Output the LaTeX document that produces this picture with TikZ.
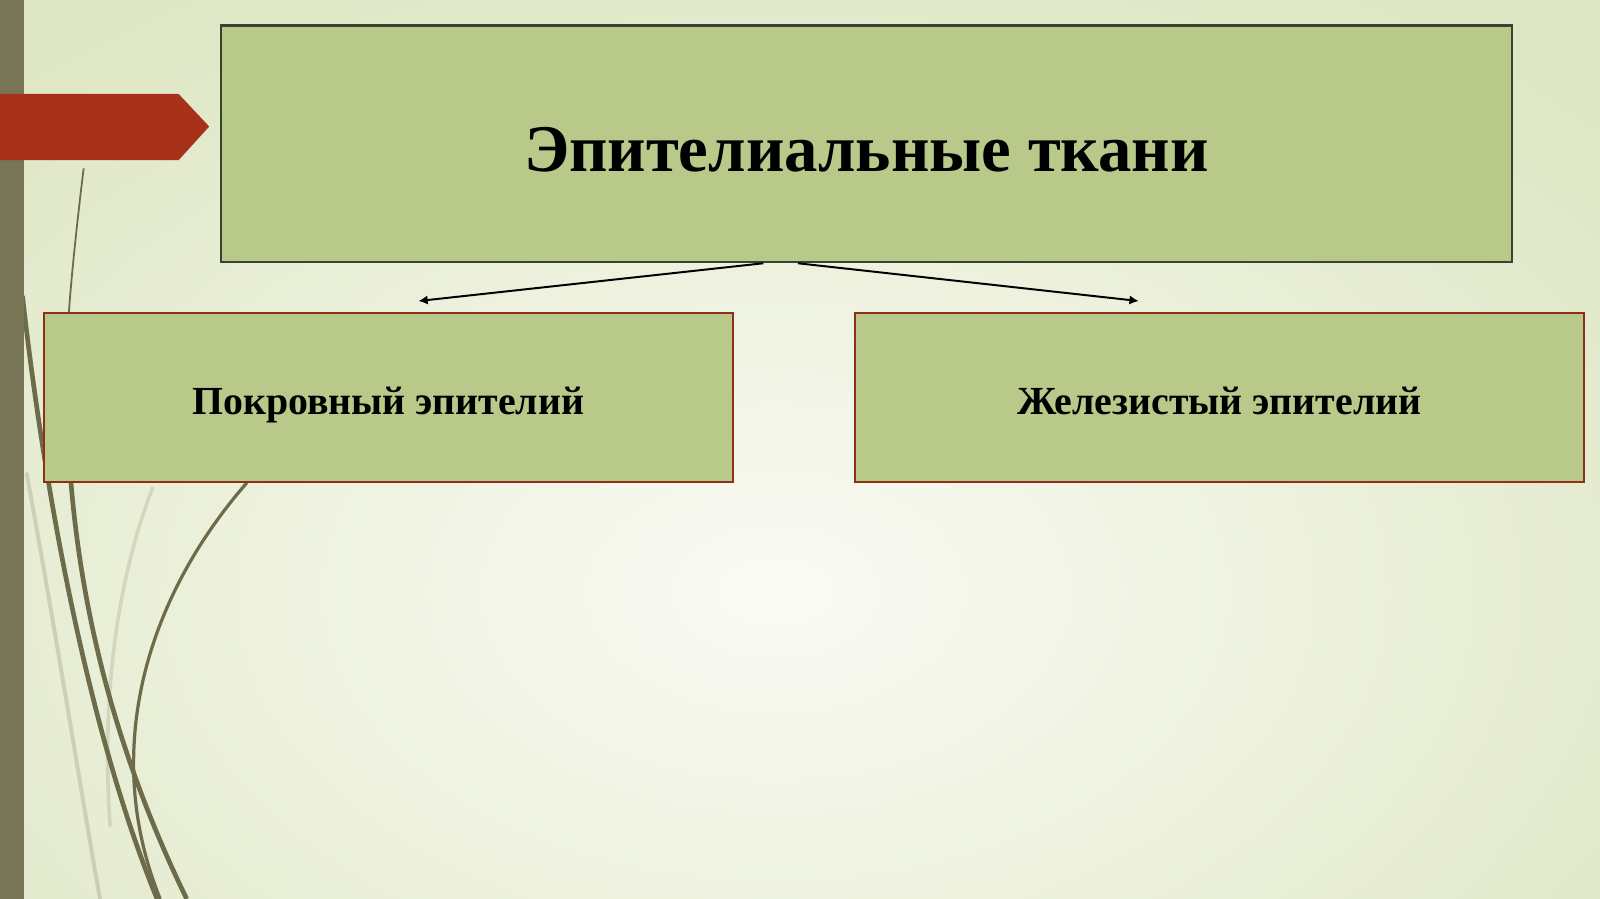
\documentclass[tikz,border=0pt]{standalone}
\usepackage{fontspec}
\setmainfont{Liberation Serif}
\usetikzlibrary{arrows.meta}
\usetikzlibrary{calc}

\definecolor{bgout}{HTML}{DEE6C3}
\definecolor{bgin}{HTML}{FAFBF5}
\definecolor{sidebar}{HTML}{787456}
\definecolor{tabred}{HTML}{A8311A}
\definecolor{boxfill}{HTML}{B9C98A}
\definecolor{titleline}{HTML}{3A4232}
\definecolor{subline}{HTML}{8E2F1C}
\definecolor{vinecol}{HTML}{6E6B4B}

\begin{document}
\begin{tikzpicture}[x=0.01cm, y=-0.01cm,
        topbox/.style={draw=titleline, line width=0.6pt, fill=boxfill,
            minimum width=12.64cm, minimum height=2.32cm,
            text height=0.54cm, text depth=0pt,
            font=\fontsize{18.6}{22}\selectfont\bfseries},
        subbox/.style={draw=subline, line width=0.6pt, fill=boxfill,
            minimum height=1.65cm, text height=0.33cm, text depth=0pt,
            font=\fontsize{11.1}{13}\selectfont\bfseries},
        vine/.style={vinecol, line width=1.3pt},
        link/.style={line width=0.55pt, -{Latex[length=2.6pt,width=2.6pt]}}]
        \useasboundingbox (0,0) rectangle (1568,881);
        \fill[bgout] (0,0) rectangle (1568,881);
        \begin{scope}
            \clip (0,0) rectangle (1568,881);
            \shade[inner color=bgin, outer color=bgout]
                (760,580) ellipse [x radius=1100, y radius=700];

            \draw[vine, opacity=.22, line width=1.1pt] (26,463) .. controls (60,650) and (80,780) .. (98,881);
            \draw[vine, opacity=.18, line width=1pt] (150,477) .. controls (110,580) and (100,700) .. (108,810);
            \draw[vine, line width=0.5pt] (82,165) .. controls (74,230) and (68,290) .. (66,330);
            \draw[vine] (66,330) .. controls (60,520) and (95,700) .. (183,881);
            \draw[vine] (22,290) .. controls (40,450) and (80,700) .. (154,881);
            \draw[vine, line width=0.9pt] (242,473) .. controls (140,590) and (100,740) .. (157,881);
        \end{scope}
        \fill[sidebar] (0,0) rectangle (24,881);
        \fill[tabred] (0,92) -- (175,92) -- (205,124) -- (175,157) -- (0,157) -- cycle;

        \node[topbox] (tissue) at (849,141) {Эпителиальные ткани};
        \node[subbox, minimum width=6.75cm] (cover) at (380.5,389.5) {Покровный эпителий};
        \node[subbox, minimum width=7.14cm] (gland) at (1195,389.5) {Железистый эпителий};

        \coordinate (splitL) at (748,258);
        \coordinate (splitR) at (782,258);
        \coordinate (tipL) at (410,295);
        \coordinate (tipR) at (1116,295);
        \draw[link] (splitL) -- (tipL);
        \draw[link] (splitR) -- (tipR);
\end{tikzpicture}
\end{document}
